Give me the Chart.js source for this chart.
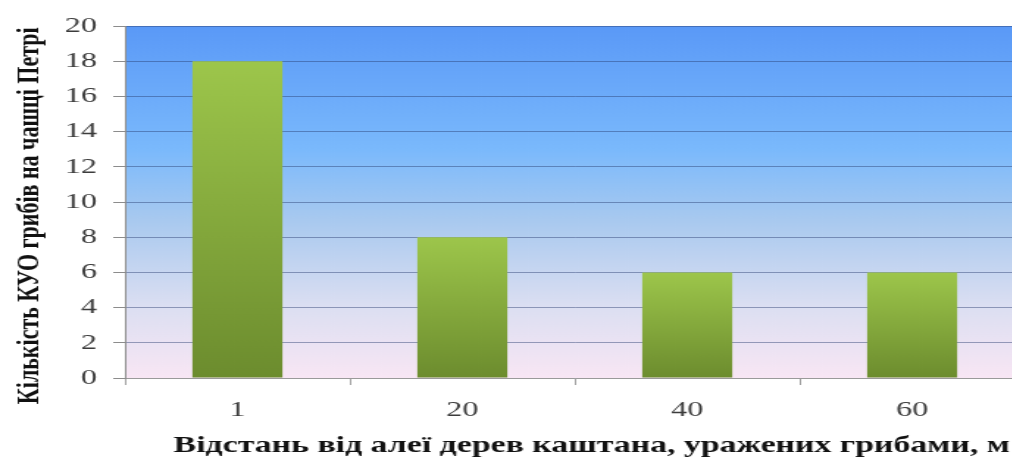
<!DOCTYPE html>
<html>
<head>
<meta charset="utf-8">
<script src="https://cdn.jsdelivr.net/npm/chart.js@4"></script>
<style>
  html, body { margin: 0; padding: 0; background: #fff; overflow: hidden; }
  /* the original picture is stretched sideways, so the whole chart is too */
  #wrap { width: 698px; height: 458px; transform: scaleX(1.47); transform-origin: 0 0; }
</style>
</head>
<body>
<div id="wrap"><canvas id="myChart" width="698" height="458"></canvas></div>
<script>
const categories = ["1", "20", "40", "60"];
const counts = [18, 8, 6, 6];
const yMin = 0;
const yMax = 20;
const yStep = 2;
// spaces push the titles a bit off the scale centre, like in the picture
const xTitle = "    Відстань від алеї дерев каштана, уражених грибами, м";
const yTitle = "Кількість КУО грибів на чашці Петрі     ";

// gradient behind the plot area, blue on top going to pale pink
const plotBackground = {
  id: "plotBackground",
  beforeDraw(chart) {
    const { ctx, chartArea } = chart;
    if (!chartArea) return;
    const g = ctx.createLinearGradient(0, chartArea.top, 0, chartArea.bottom);
    g.addColorStop(0, "#5a99f7");
    g.addColorStop(0.35, "#7ab9fc");
    g.addColorStop(0.55, "#a8c9ef");
    g.addColorStop(0.8, "#dcdff2");
    g.addColorStop(1, "#f8e6f4");
    ctx.save();
    ctx.fillStyle = g;
    ctx.fillRect(chartArea.left, chartArea.top, chartArea.right - chartArea.left, chartArea.bottom - chartArea.top);
    ctx.restore();
  }
};

function barFill(context) {
  const chart = context.chart;
  if (!chart.chartArea) return "#86a83c";
  const yScale = chart.scales.y;
  const top = yScale.getPixelForValue(context.raw);
  const base = yScale.getPixelForValue(0);
  const g = chart.ctx.createLinearGradient(0, top, 0, base);
  g.addColorStop(0, "#9dc64b");
  g.addColorStop(1, "#6c8c2e");
  return g;
}

const ctx = document.getElementById("myChart").getContext("2d");
new Chart(ctx, {
  type: "bar",
  data: {
    labels: categories,
    datasets: [{
      data: counts,
      backgroundColor: barFill,
      borderWidth: 0,
      barPercentage: 0.4,
      categoryPercentage: 1
    }]
  },
  options: {
    responsive: false,
    animation: false,
    layout: { padding: { top: 26, right: 1, left: 0, bottom: 0 } },
    plugins: { legend: { display: false }, tooltip: { enabled: false } },
    scales: {
      x: {
        afterFit(scale) { scale.height = 80; },
        grid: {
          drawOnChartArea: false,
          drawTicks: true,
          tickLength: 7,
          tickColor: "#a0a0a0",
          offset: true
        },
        border: { color: "#9a9a9a", width: 1 },
        ticks: {
          color: "#3c3c3c",
          padding: 12,
          font: { family: "Liberation Serif", size: 22 }
        },
        title: {
          display: true,
          text: xTitle,
          color: "#111",
          padding: { top: 0, bottom: 0 },
          font: { family: "Liberation Serif", size: 23, weight: "bold", lineHeight: 1 }
        }
      },
      y: {
        min: yMin,
        max: yMax,
        afterFit(scale) { scale.width = 85; },
        grid: {
          color: "rgba(40, 60, 110, 0.45)",
          tickColor: "#8c8c8c",
          tickLength: 8,
          lineWidth: 1
        },
        border: { color: "#8c8c8c", width: 1 },
        ticks: {
          stepSize: yStep,
          color: "#3c3c3c",
          padding: 11,
          font: { family: "Liberation Serif", size: 22 }
        },
        title: {
          display: true,
          text: yTitle,
          color: "#111",
          padding: { top: 7, bottom: 0 },
          font: { family: "Liberation Serif", size: 22, weight: "bold" }
        }
      }
    }
  },
  plugins: [plotBackground]
});
</script>
</body>
</html>
